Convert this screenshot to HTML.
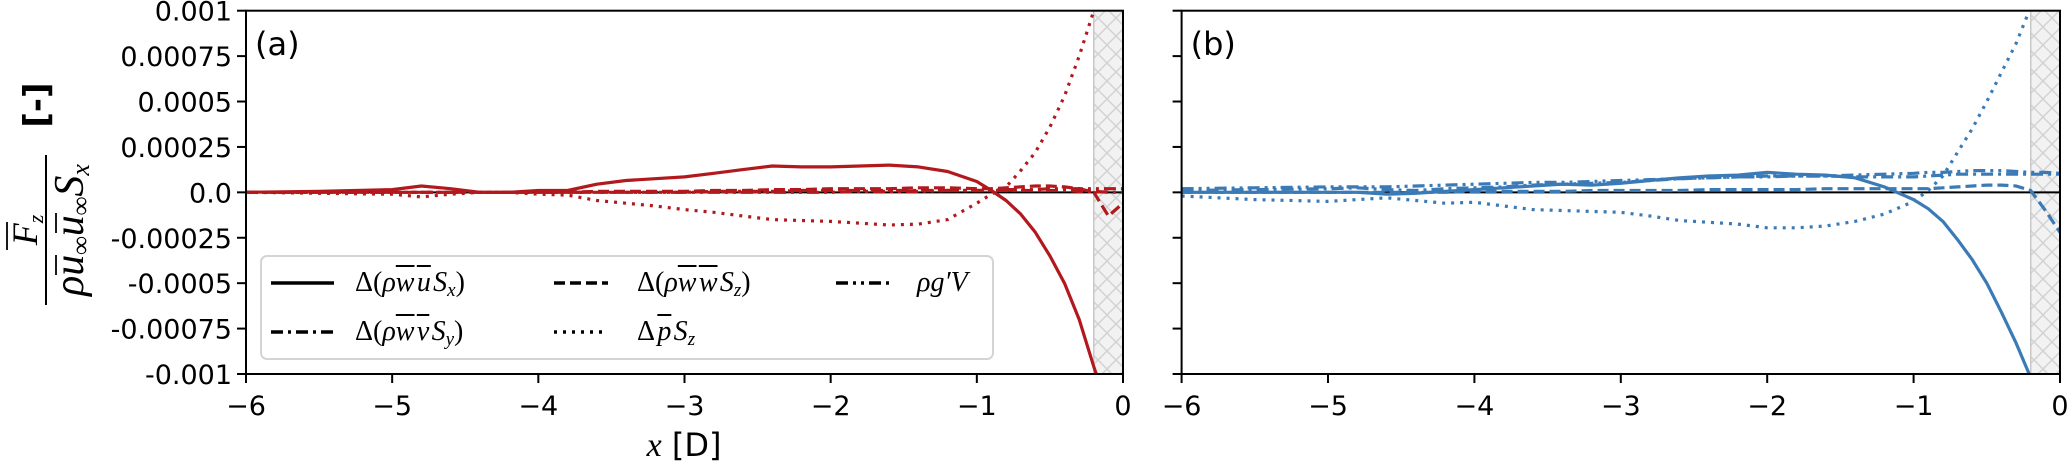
<!DOCTYPE html>
<html><head><meta charset="utf-8">
<style>
body{margin:0;background:#fff;}
#wrap{position:relative;width:2067px;height:464px;overflow:hidden;background:#fff;}
svg{position:absolute;left:0;top:0;}
.leg{position:absolute;font-family:"Liberation Serif",serif;font-size:28px;line-height:30px;white-space:nowrap;color:#000;}
.i{font-style:italic;}
.ov{text-decoration:overline;text-decoration-thickness:1.5px;}
sub{font-size:19px;font-style:italic;vertical-align:-5px;line-height:0;}
</style></head>
<body>
<div id="wrap">
<svg id="chart" width="2067" height="464" xmlns="http://www.w3.org/2000/svg">
<defs>
<pattern id="hatch" width="18" height="18" patternUnits="userSpaceOnUse">
<rect width="18" height="18" fill="#f2f2f2"/>
<path d="M0,0 L18,18 M18,0 L0,18" stroke="#d2d2d2" stroke-width="1.5"/>
</pattern>
</defs>
</svg>
<div class="leg" style="left:355px;top:268px;">Δ(<span class="i">ρ<span class="ov">w</span>&#8202;<span class="ov">u</span>&#8202;S<sub>x</sub></span>)</div>
<div class="leg" style="left:355px;top:317px;">Δ(<span class="i">ρ<span class="ov">w</span>&#8202;<span class="ov">v</span>&#8202;S<sub>y</sub></span>)</div>
<div class="leg" style="left:637px;top:268px;">Δ(<span class="i">ρ<span class="ov">w</span>&#8202;<span class="ov">w</span>&#8202;S<sub>z</sub></span>)</div>
<div class="leg" style="left:637px;top:317px;">Δ&#8202;<span class="i"><span class="ov">p</span>&#8202;S<sub>z</sub></span></div>
<div class="leg" style="left:917px;top:268px;"><span class="i">ρg′V</span></div>
</div>
<script>
const xTicks=[-6,-5,-4,-3,-2,-1,0];
const xTickLabels=["−6","−5","−4","−3","−2","−1","0"];
const yTicks=[0.001,0.00075,0.0005,0.00025,0,-0.00025,-0.0005,-0.00075,-0.001];
const yTickLabels=["0.001","0.00075","0.0005","0.00025","0.0","-0.00025","-0.0005","-0.00075","-0.001"];
// values in units of 1e-4
const xs=[-6,-5.5,-5,-4.8,-4.6,-4.4,-4.2,-4,-3.8,-3.6,-3.4,-3.2,-3,-2.8,-2.6,-2.4,-2.2,-2,-1.8,-1.6,-1.4,-1.2,-1,-0.9,-0.8,-0.7,-0.6,-0.5,-0.4,-0.3,-0.2,-0.1,0];
const aSolid=[0,0.05,0.15,0.35,0.2,0,0,0.1,0.1,0.45,0.65,0.75,0.85,1.05,1.25,1.45,1.4,1.4,1.45,1.5,1.4,1.15,0.6,0.1,-0.45,-1.2,-2.2,-3.5,-5,-7,-9.6,-12,-14];
const aDashed=[0,0,0,0,0,0,0,0,0,0.05,0.05,0.05,0.05,0.1,0.1,0.15,0.15,0.2,0.2,0.2,0.25,0.25,0.2,0.2,0.25,0.3,0.35,0.35,0.3,0.2,0,-1.3,-0.6];
const aDashDot=[0,0,0,0,0,0,0,0,0,0,0,0,0,0.05,0.05,0.05,0.1,0.1,0.1,0.1,0.1,0.1,0.1,0.1,0.1,0.1,0.1,0.1,0.1,0.05,0.05,0,0];
const aDashDotDot=[0,0,0,0,0,0,0,0,0,0,0,0,0,0,0,0,0,0,0.05,0.05,0.05,0.1,0.1,0.1,0.15,0.15,0.15,0.2,0.2,0.2,0.2,0.2,0.2];
const aDotted=[0,-0.05,-0.1,-0.25,-0.1,0,0,-0.1,-0.15,-0.45,-0.6,-0.75,-0.95,-1.1,-1.3,-1.5,-1.55,-1.6,-1.7,-1.8,-1.75,-1.5,-0.6,-0.1,0.3,1.2,2.2,3.6,5.3,7.5,10,12.5,15];
const bSolid=[0,0,0,0,-0.1,-0.05,0.05,0.15,0.25,0.35,0.45,0.4,0.5,0.65,0.8,0.9,0.95,1.1,1.0,0.95,0.8,0.3,-0.4,-0.9,-1.6,-2.6,-3.7,-5,-6.6,-8.3,-10.2,-12,-14];
const bDashed=[0,0,0,0,0,0,0,0.05,0.05,0.05,0.05,0.1,0.1,0.1,0.1,0.15,0.15,0.15,0.15,0.2,0.2,0.2,0.2,0.2,0.25,0.3,0.35,0.4,0.4,0.35,0.1,-1,-2.2];
const bDashDot=[0.1,0.15,0.2,0.25,0.15,0.1,0.2,0.25,0.3,0.4,0.45,0.5,0.55,0.65,0.75,0.8,0.85,0.9,0.9,0.9,0.85,0.85,0.85,0.9,0.95,1.0,1.0,1.0,1.0,1.0,1.0,1.0,1.0];
const bDashDotDot=[0.2,0.25,0.3,0.3,0.3,0.35,0.4,0.45,0.5,0.55,0.55,0.6,0.65,0.7,0.75,0.8,0.85,0.85,0.9,0.9,0.95,1.0,1.05,1.1,1.1,1.15,1.2,1.2,1.2,1.15,1.1,1.1,1.05];
const bDotted=[-0.2,-0.4,-0.5,-0.4,-0.3,-0.45,-0.6,-0.55,-0.75,-0.95,-1.0,-1.05,-1.1,-1.3,-1.55,-1.65,-1.75,-1.95,-1.95,-1.85,-1.6,-1.2,-0.5,0.1,0.9,2.2,3.5,5.0,6.6,8.2,10.2,12,14];

const NS="http://www.w3.org/2000/svg";
const svg=document.getElementById('chart');
const TOP=10.7,BOT=374;
function yS(v){return TOP+(0.001-v)/0.002*(BOT-TOP);}
function mk(tag,attrs,parent){const e=document.createElementNS(NS,tag);for(const k in attrs)e.setAttribute(k,attrs[k]);(parent||svg).appendChild(e);return e;}
const panels=[
 {L:246,R:1123,color:"#b2191d",tag:"a",series:[[aSolid,"none","solid"],[aDashed,"11,5","dashed"],[aDashDot,"12,5,3,5","dash-dot"],[aDashDotDot,"12,5,3,5,3,5","dash-dot-dot"],[aDotted,"3,6","dotted"]]},
 {L:1181.6,R:2060,color:"#3a7ab6",tag:"b",series:[[bSolid,"none","solid"],[bDashed,"11,5","dashed"],[bDashDot,"12,5,3,5","dash-dot"],[bDashDotDot,"12,5,3,5,3,5","dash-dot-dot"],[bDotted,"3,6","dotted"]]}
];
panels.forEach((p,pi)=>{
  const xS=x=>p.L+(x+6)/6*(p.R-p.L);
  const g=mk('g',{});
  
  
  const cid='clip'+p.tag;
  const cp=mk('clipPath',{id:cid},g);
  mk('rect',{x:p.L,y:TOP,width:p.R-p.L,height:BOT-TOP},cp);
  const hatch=mk('rect',{x:xS(-0.2),y:TOP,width:xS(0)-xS(-0.2),height:BOT-TOP,fill:"url(#hatch)",stroke:"#c8c8c8","stroke-width":1.5},g);
  
  
  const zl=mk('line',{x1:p.L,x2:p.R,y1:yS(0),y2:yS(0),stroke:"#000","stroke-width":2},g);
  
  
  const sg=mk('g',{'clip-path':'url(#'+cid+')'},g);
  p.series.forEach(s=>{
    const d=xs.map((x,i)=>(i?'L':'M')+xS(x).toFixed(1)+','+yS(s[0][i]*1e-4).toFixed(1)).join(' ');
    const path=mk('path',{d:d,fill:"none",stroke:p.color,"stroke-width":3.2,"stroke-dasharray":s[1],"stroke-linejoin":"round"},sg);
    
    
  });
  const fr=mk('rect',{x:p.L,y:TOP,width:p.R-p.L,height:BOT-TOP,fill:"none",stroke:"#000","stroke-width":2},g);
  
  
  xTicks.forEach((t,i)=>{
    mk('line',{x1:xS(t),x2:xS(t),y1:BOT,y2:BOT+9,stroke:"#000","stroke-width":2},g);
    const tx=mk('text',{x:xS(t),y:415,"text-anchor":"middle","font-family":"DejaVu Sans, sans-serif","font-size":27},g);
    tx.textContent=xTickLabels[i];
    
    
  });
  yTicks.forEach((t,i)=>{
    mk('line',{x1:p.L-9,x2:p.L,y1:yS(t),y2:yS(t),stroke:"#000","stroke-width":2},g);
    if(pi===0){
      const ty=mk('text',{x:p.L-14,y:yS(t)+10,"text-anchor":"end","font-family":"DejaVu Sans, sans-serif","font-size":27},g);
      ty.textContent=yTickLabels[i];
      
      
    }
  });
  const pl=mk('text',{x:p.L+9,y:55,"font-family":"DejaVu Sans, sans-serif","font-size":32},g);
  pl.textContent='('+p.tag+')';
  
  
});
// legend box
const lb=mk('rect',{x:261,y:256,width:732,height:103,rx:6,fill:"rgba(255,255,255,0.85)",stroke:"#d4d4d4","stroke-width":2});


// legend handles
const handles=[[271,334,283,"none"],[271,334,332,"12,5,3,5"],[554,608,283,"11,5"],[554,608,332,"3,6"],[836,891,283,"12,5,3,5,3,5"]];
handles.forEach(h=>{
  const l=mk('line',{x1:h[0],x2:h[1],y1:h[2],y2:h[2],stroke:"#000","stroke-width":3.5,"stroke-dasharray":h[3]});
  
  
});
// x label
const xl=mk('text',{x:684,y:456,"text-anchor":"middle","font-size":32,"font-family":"DejaVu Sans, sans-serif"});


xl.innerHTML='<tspan font-family="Liberation Serif, serif" font-style="italic" font-size="34">x</tspan> [D]';
// y label
const yl=mk('g',{transform:'translate(46,230) rotate(-90)'});


mk('line',{x1:-75,x2:75,y1:0,y2:0,stroke:"#000","stroke-width":2},yl);
const num=mk('text',{x:0,y:-9,"text-anchor":"middle","font-family":"Liberation Serif, serif","font-style":"italic","font-size":36},yl);
num.innerHTML='F<tspan font-size="22" dy="6">z</tspan>';
mk('line',{x1:-20,x2:8,y1:-39,y2:-39,stroke:"#000","stroke-width":1.8},yl);
const den=mk('text',{x:0,y:37,"text-anchor":"middle","font-family":"Liberation Serif, serif","font-style":"italic","font-size":42},yl);
den.innerHTML='ρu<tspan font-size="26" dy="6">∞</tspan><tspan dy="-6">u</tspan><tspan font-size="26" dy="6">∞</tspan><tspan dy="-6">S</tspan><tspan font-size="26" dy="6">x</tspan>';
mk('line',{x1:-45,x2:-25,y1:10,y2:10,stroke:"#000","stroke-width":1.8},yl);
mk('line',{x1:-3,x2:17,y1:10,y2:10,stroke:"#000","stroke-width":1.8},yl);
const br=mk('text',{x:125,y:2,"text-anchor":"middle","font-family":"DejaVu Sans, sans-serif","font-weight":"bold","font-size":34},yl);
br.textContent='[-]';
</script>
</body></html>
